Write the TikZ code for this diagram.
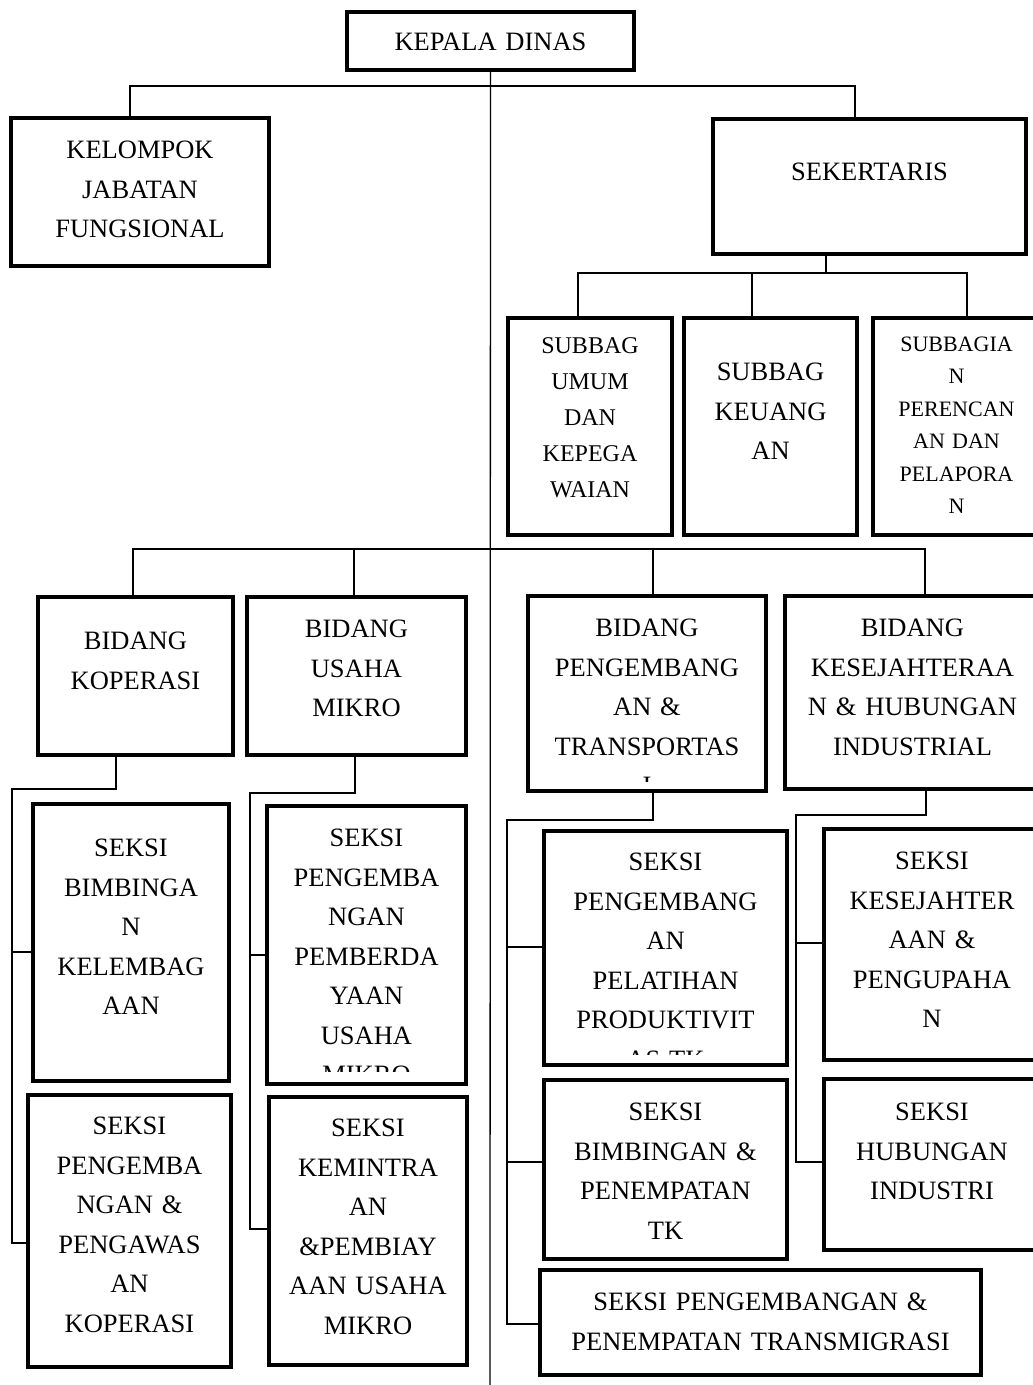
\documentclass[tikz,border=0pt]{standalone}
\usepackage{fontspec}
\setmainfont{Liberation Serif}
\begin{document}
\begin{tikzpicture}[x=1pt,y=-1pt,unit/.style={draw,line width=4pt,outer sep=0pt,inner sep=0pt,anchor=north west,align=center,font=\fontsize{26.5}{39.5}\selectfont},frame/.style={line width=4pt},conn/.style={line width=1.3pt}]
\useasboundingbox (0,0) rectangle (1033,1385);

% kepala dinas dan garis tengah
\node[unit,text width=287pt,text height=38.75pt,text depth=19.25pt] (kepala) at (347,12) {KEPALA DINAS};
\coordinate (spine) at (490,1385);
\draw[conn] (kepala.south) -- (spine);

\node[unit,text width=258pt,text height=40.75pt,text depth=107.25pt] (kelompok) at (11,118) {KELOMPOK\\JABATAN\\FUNGSIONAL};
\node[unit,text width=313pt,text height=61.75pt,text depth=73.25pt] (sekertaris) at (713,119) {SEKERTARIS};
\coordinate (t1) at (130,86);
\coordinate (t2) at (855,86);
\draw[conn] (t1 |- kelompok.north) -- (t1) -- (t2) -- (t2 |- sekertaris.north);

% subbagian
\node[unit,font=\fontsize{24}{36}\selectfont,text width=164pt,text height=35pt,text depth=182pt] (umum) at (508,318) {SUBBAG\\UMUM\\DAN\\KEPEGA\\WAIAN};
\node[unit,text width=173pt,text height=62.75pt,text depth=154.25pt] (keuangan) at (684,318) {SUBBAG\\KEUANG\\AN};
\node[unit,font=\fontsize{22}{32.5}\selectfont,text width=167pt,text height=33.3pt,text depth=183.7pt] (perencanaan) at (873,318) {SUBBAGIA\\N\\PERENCAN\\AN DAN\\PELAPORA\\N};
\coordinate (s0) at (826,273);
\coordinate (s1) at (578,273);
\coordinate (s2) at (752,273);
\coordinate (s3) at (967,273);
\draw[conn] (s0 |- sekertaris.south) -- (s0);
\draw[conn] (s1 |- umum.north) -- (s1) -- (s3) -- (s3 |- perencanaan.north);
\draw[conn] (s2) -- (s2 |- keuangan.north);

% bidang
\node[unit,text width=195pt,text height=52.75pt,text depth=105.25pt] (koperasi) at (38,597) {BIDANG\\KOPERASI};
\node[unit,text width=219pt,text height=40.75pt,text depth=117.25pt] (mikro) at (247,597) {BIDANG\\USAHA\\MIKRO};
\begin{scope}
\clip (520,585) rectangle (775,781);
\node[unit,text width=238pt,text height=40.75pt,text depth=154.25pt] (transportasi) at (528,596) {BIDANG\\PENGEMBANG\\AN \&\\TRANSPORTAS\\I};
\end{scope}
\draw[frame] (transportasi.north west) rectangle (transportasi.south east);
\node[unit,text width=255pt,text height=40.75pt,text depth=152.25pt] (kesejahteraan) at (785,596) {BIDANG\\KESEJAHTERAA\\N \& HUBUNGAN\\INDUSTRIAL};
\coordinate (m1) at (133,549);
\coordinate (m2) at (354,549);
\coordinate (m3) at (653,549);
\coordinate (m4) at (925,549);
\draw[conn] (m1 |- koperasi.north) -- (m1) -- (m4) -- (m4 |- kesejahteraan.north);
\draw[conn] (m2) -- (m2 |- mikro.north);
\draw[conn] (m3) -- (m3 |- transportasi.north);

% seksi bidang koperasi
\node[unit,text width=196pt,text height=52.75pt,text depth=224.25pt] (kelembagaan) at (33,804) {SEKSI\\BIMBINGA\\N\\KELEMBAG\\AAN};
\node[unit,text width=203pt,text height=39.75pt,text depth=232.25pt] (pengawasan) at (28,1095) {SEKSI\\PENGEMBA\\NGAN \&\\PENGAWAS\\AN\\KOPERASI};
\coordinate (k1) at (116,789);
\coordinate (k2) at (12,789);
\coordinate (k3) at (12,952);
\coordinate (k4) at (12,1243);
\draw[conn] (k1 |- koperasi.south) -- (k1) -- (k2) -- (k4) -- (k4 -| pengawasan.west);
\draw[conn] (k3) -- (k3 -| kelembagaan.west);

% seksi bidang usaha mikro
\begin{scope}
\clip (258,795) rectangle (476,1071);
\node[unit,text width=199pt,text height=40.75pt,text depth=237.25pt] (pemberdayaan) at (267,806) {SEKSI\\PENGEMBA\\NGAN\\PEMBERDA\\YAAN\\USAHA\\MIKRO};
\end{scope}
\draw[frame] (pemberdayaan.north west) rectangle (pemberdayaan.south east);
\node[unit,text width=198pt,text height=39.75pt,text depth=228.25pt] (kemitraan) at (269,1097) {SEKSI\\KEMINTRA\\AN\\\&PEMBIAY\\AAN USAHA\\MIKRO};
\coordinate (u1) at (355,793);
\coordinate (u2) at (250,793);
\coordinate (u3) at (250,955);
\coordinate (u4) at (250,1229);
\draw[conn] (u1 |- mikro.south) -- (u1) -- (u2) -- (u4) -- (u4 -| kemitraan.west);
\draw[conn] (u3) -- (u3 -| pemberdayaan.west);

% seksi bidang pengembangan & transportasi
\begin{scope}
\clip (535,820) rectangle (797,1054);
\node[unit,text width=243pt,text height=39.75pt,text depth=194.25pt] (pelatihan) at (544,831) {SEKSI\\PENGEMBANG\\AN\\PELATIHAN\\PRODUKTIVIT\\AS TK};
\end{scope}
\draw[frame] (pelatihan.north west) rectangle (pelatihan.south east);
\node[unit,text width=243pt,text height=40.75pt,text depth=138.25pt] (penempatan) at (544,1080) {SEKSI\\BIMBINGAN \&\\PENEMPATAN\\TK};
\node[unit,text width=441pt,text height=40.75pt,text depth=64.25pt] (transmigrasi) at (540,1270) {SEKSI PENGEMBANGAN \&\\PENEMPATAN TRANSMIGRASI};
\coordinate (p1) at (653,820);
\coordinate (p2) at (507,820);
\coordinate (p3) at (507,947);
\coordinate (p4) at (507,1162);
\coordinate (p5) at (507,1324);
\draw[conn] (p1 |- transportasi.south) -- (p1) -- (p2) -- (p5) -- (p5 -| transmigrasi.west);
\draw[conn] (p3) -- (p3 -| pelatihan.west);
\draw[conn] (p4) -- (p4 -| penempatan.west);

% seksi bidang kesejahteraan
\node[unit,text width=216pt,text height=40.75pt,text depth=190.25pt] (pengupahan) at (824,829) {SEKSI\\KESEJAHTER\\AAN \&\\PENGUPAHA\\N};
\node[unit,text width=216pt,text height=41.75pt,text depth=129.25pt] (hubungan) at (824,1079) {SEKSI\\HUBUNGAN\\INDUSTRI};
\coordinate (h1) at (926,815);
\coordinate (h2) at (796,815);
\coordinate (h3) at (796,943);
\coordinate (h4) at (796,1162);
\draw[conn] (h1 |- kesejahteraan.south) -- (h1) -- (h2) -- (h4) -- (h4 -| hubungan.west);
\draw[conn] (h3) -- (h3 -| pengupahan.west);
\end{tikzpicture}
\end{document}
